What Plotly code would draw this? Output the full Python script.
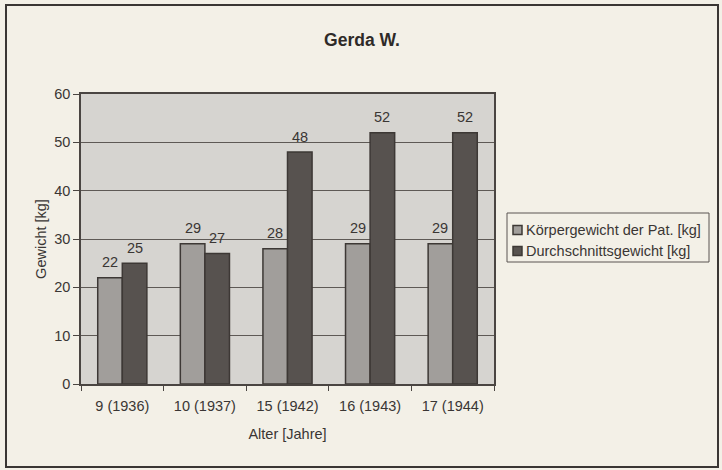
import plotly.graph_objects as go

categories = ["9 (1936)", "10 (1937)", "15 (1942)", "16 (1943)", "17 (1944)"]
patient_weight = [22, 29, 28, 29, 29]
average_weight = [25, 27, 48, 52, 52]
series_names = ["Körpergewicht der Pat. [kg]", "Durchschnittsgewicht [kg]"]
y_ticks = [0, 10, 20, 30, 40, 50, 60]

W, H = 722, 470
L, R, T, B = 81, 494, 94, 384
FONT = "Liberation Sans, Arial, sans-serif"
TXT = "#3a3634"
FS = 14.5
COL1, COL2, EDGE = "#a19e9b", "#57524f", "#3d3835"
BARGAP = 0.405


def px(x):
    return (x - L) / (R - L)


def py(y):
    return (B - y) / (B - T)


fig = go.Figure()
fig.add_trace(go.Bar(
    x=categories, y=patient_weight, name=series_names[0],
    marker=dict(color=COL1, line=dict(color=EDGE, width=1.5)),
))
fig.add_trace(go.Bar(
    x=categories, y=average_weight, name=series_names[1],
    marker=dict(color=COL2, line=dict(color=EDGE, width=1.5)),
))

half = (1 - BARGAP) / 4
annotations = []
for i, (a, b) in enumerate(zip(patient_weight, average_weight)):
    for off, v in ((-half, a), (half, b)):
        annotations.append(dict(x=i + off, y=v, xref="x", yref="y", text=str(v),
                                showarrow=False, yshift=15.5, yanchor="middle",
                                font=dict(family=FONT, size=FS, color=TXT)))

# legend (manual, to match the compact original box)
leg_x0, leg_x1, leg_y0, leg_y1 = 507, 709, 213, 262
shapes = [
    dict(type="rect", xref="paper", yref="paper",
         x0=px(6), x1=px(718), y0=py(467), y1=py(5),
         line=dict(color="#3a3634", width=2), fillcolor="rgba(0,0,0,0)", layer="below"),
    dict(type="rect", xref="paper", yref="paper",
         x0=px(leg_x0), x1=px(leg_x1), y0=py(leg_y1), y1=py(leg_y0),
         line=dict(color="#5a5552", width=1), fillcolor="rgba(0,0,0,0)"),
]
for name, col, yc in ((series_names[0], COL1, 230), (series_names[1], COL2, 251)):
    shapes.append(dict(type="rect", xref="paper", yref="paper",
                       x0=px(513), x1=px(522), y0=py(yc + 4.5), y1=py(yc - 4.5),
                       line=dict(color=EDGE, width=1.5), fillcolor=col))
    annotations.append(dict(x=px(524), y=py(yc), xref="paper", yref="paper", text=name,
                            showarrow=False, xanchor="left", yanchor="middle",
                            font=dict(family=FONT, size=FS, color=TXT)))

fig.update_layout(
    width=W, height=H,
    margin=dict(l=L, r=W - R, t=T, b=H - B, pad=0),
    paper_bgcolor="#f3f0e7",
    plot_bgcolor="#d6d4d0",
    barmode="group", bargap=BARGAP, bargroupgap=0,
    font=dict(family=FONT, size=FS, color=TXT),
    title=dict(text="<b>Gerda W.</b>", x=362 / W, xref="container", xanchor="center",
               y=1 - 40 / H, yref="container", yanchor="middle",
               font=dict(family=FONT, size=17.5, color="#2e2a28")),
    showlegend=False,
    annotations=annotations,
    shapes=shapes,
    xaxis=dict(
        title=dict(text="Alter [Jahre]", font=dict(family=FONT, size=FS, color=TXT), standoff=16),
        showline=True, linecolor="#4a4542", linewidth=1.5, mirror=True,
        ticks="outside", tickson="boundaries", ticklen=5, tickcolor="#4a4542",
        tickfont=dict(family=FONT, size=FS, color=TXT), ticklabelstandoff=8,
        showgrid=False,
    ),
    yaxis=dict(
        title=dict(text="Gewicht [kg]", font=dict(family=FONT, size=FS, color=TXT), standoff=4),
        range=[0, 60], tickvals=y_ticks,
        showline=True, linecolor="#4a4542", linewidth=1.5, mirror=True,
        ticks="outside", ticklen=6, tickcolor="#4a4542",
        tickfont=dict(family=FONT, size=FS, color=TXT),
        showgrid=True, gridcolor="#5e5955", gridwidth=1,
        zeroline=False,
    ),
)

fig.write_html("out.html", config={"displayModeBar": False},
               post_script="document.body.style.margin='0';")
